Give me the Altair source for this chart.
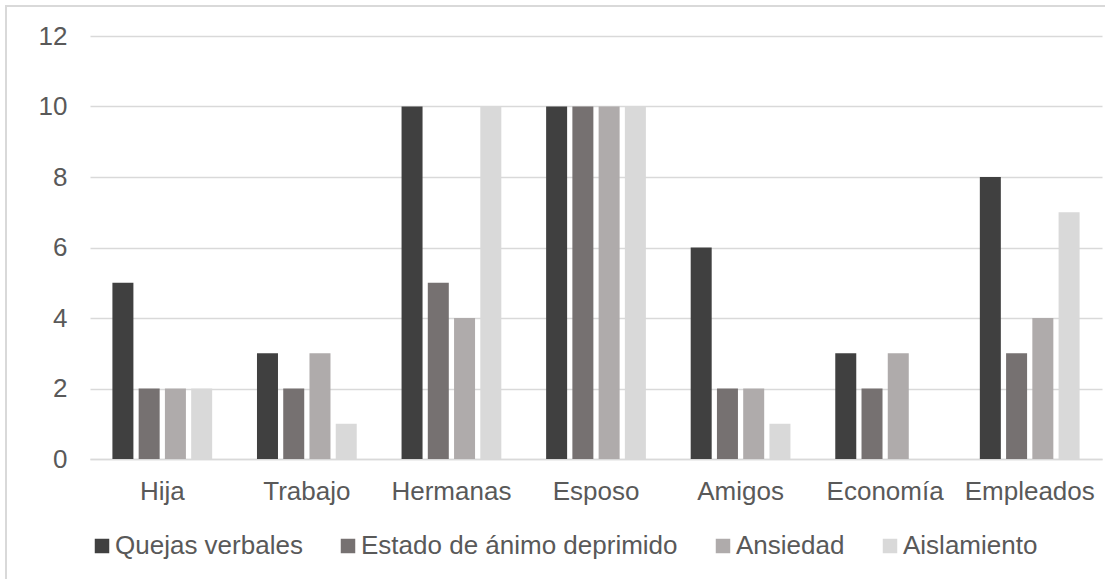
import altair as alt
import pandas as pd

categories = ["Hija", "Trabajo", "Hermanas", "Esposo", "Amigos", "Economía", "Empleados"]
series = ["Quejas verbales", "Estado de ánimo deprimido", "Ansiedad", "Aislamiento"]
quejas = [5, 3, 10, 10, 6, 3, 8]
estado = [2, 2, 5, 10, 2, 2, 3]
ansiedad = [2, 3, 4, 10, 2, 3, 4]
aislamiento = [2, 1, 10, 10, 1, 0, 7]
colors = ["#404040", "#767171", "#AFABAB", "#D9D9D9"]

rows = []
for s, vals in zip(series, [quejas, estado, ansiedad, aislamiento]):
    for c, v in zip(categories, vals):
        rows.append({"Categoría": c, "Serie": s, "Valor": v})
df = pd.DataFrame(rows)

FONT = "Liberation Sans"
TXT = "#595959"
FS = 26

bars = alt.Chart(df).mark_bar().encode(
    x=alt.X("Categoría:N", sort=categories, title=None,
            scale=alt.Scale(paddingInner=0.31, paddingOuter=0.155),
            axis=alt.Axis(labelAngle=0, labelFontSize=FS, labelColor=TXT, labelFont=FONT,
                          labelPadding=19, ticks=False, grid=False,
                          domainColor="#D9D9D9", domainWidth=1.5)),
    xOffset=alt.XOffset("Serie:N", sort=series, scale=alt.Scale(paddingInner=0.2, paddingOuter=0)),
    y=alt.Y("Valor:Q", title=None,
            scale=alt.Scale(domain=[0, 12]),
            axis=alt.Axis(values=[0, 2, 4, 6, 8, 10, 12], labelFontSize=FS, labelColor=TXT,
                          labelFont=FONT, labelPadding=23, ticks=False, domain=False,
                          gridColor="#D9D9D9", gridWidth=1.5)),
    color=alt.Color("Serie:N", sort=series,
                    scale=alt.Scale(domain=series, range=colors),
                    legend=alt.Legend(title=None, orient="none", legendX=-1, legendY=497,
                                      direction="horizontal", symbolType="square",
                                      symbolSize=210, symbolStrokeWidth=0,
                                      labelFontSize=FS, labelColor=TXT, labelFont=FONT,
                                      labelLimit=0, columnPadding=32, labelOffset=0)),
)

border = alt.Chart(pd.DataFrame({"b": [0]})).mark_rect(
    fill=None, stroke="#D9D9D9", strokeWidth=2, clip=False
).encode(x=alt.value(-84), x2=alt.value(1030), y=alt.value(-30), y2=alt.value(560))

chart = alt.layer(border, bars).properties(
    width=1012, height=423,
    background="white",
    autosize=alt.AutoSizeParams(type="none"),
    padding={"left": 90, "top": 36, "right": 3, "bottom": 120},
).configure_view(strokeWidth=0)

chart.save("out.html", embed_options={"renderer": "svg", "actions": False})
